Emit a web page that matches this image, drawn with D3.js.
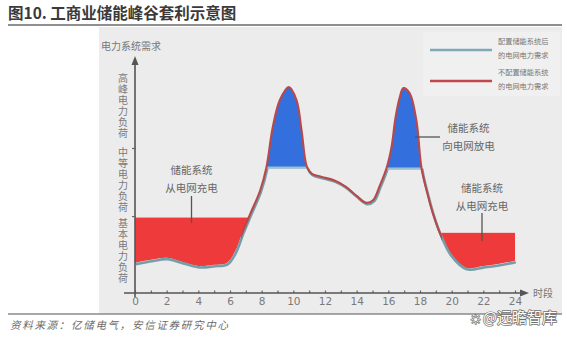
<!DOCTYPE html>
<html><head><meta charset="utf-8">
<script src="https://cdn.jsdelivr.net/npm/d3@7/dist/d3.min.js"></script>
<style>
html,body{margin:0;padding:0;background:#fff;}
svg{display:block;font-family:"Noto Sans CJK SC","Noto Sans",sans-serif;}
</style></head>
<body>
<svg id="chart" width="567" height="337"></svg>
<script>
// ---- data ----
const hours  = [0,1,2,3,4,5,5.8,6.3,6.8,7.3,7.9,8.3,8.7,9.15,9.72,10.2,10.52,10.85,11.15,11.8,12.6,13.3,14.0,14.6,15.05,15.45,15.9,16.2,16.45,16.72,16.95,17.35,17.77,18.1,18.5,18.8,19.25,19.9,20.9,22,23,24];
const demand = [12.8,14.1,15.0,13.2,11.5,12.0,12.8,17.4,26.0,34.0,43.5,53.4,70.5,82.1,87.6,82.1,69.2,53.8,50.8,49.4,47.9,45.3,41.3,38.4,39.6,45.5,53.4,62.0,74.5,83.3,87.2,85.0,73.5,53.0,41.5,34.2,25.6,16.7,10.7,11.5,12.4,13.7];
const chargeStart = [0, 19];
const chargeEnd   = [7.6, 24];
const chargeLevel = [32.1, 25.6];
const dischargeStart = [8.0, 15.6];
const dischargeEnd   = [11.3, 18.4];
const dischargeLevel = [53.4, 53.0];
const xTickValues = d3.range(0, 25);
const xTickLabels = [0,2,4,6,8,10,12,14,16,18,20,22,24];
const yBandLabels = ["高峰电力负荷","中等电力负荷","基本电力负荷"];
const yBandTicks = [61.5, 32.5];
const legendLabels = [["配置储能系统后","的电网电力需求"],["不配置储能系统","的电网电力需求"]];

const pts = hours.map((h,i)=>({h, v: demand[i]}));
const svg = d3.select("#chart");

const x = d3.scaleLinear().domain([0,24]).range([135,515]);
const y = d3.scaleLinear().domain([0,100]).range([293,58]);
const x0 = x(0), yb = y(0);

// title
svg.append("text").attr("x",8).attr("y",19).attr("font-size",15.5).attr("font-weight","bold")
  .attr("fill","#3a3a3a").text("图10. 工商业储能峰谷套利示意图");
svg.append("line").attr("x1",8).attr("x2",562).attr("y1",25).attr("y2",25)
  .attr("stroke","#6a6a6a").attr("stroke-width",1.6);

// panel
svg.append("rect").attr("x",99).attr("y",27).attr("width",463).attr("height",287).attr("fill","#ececec");
svg.append("rect").attr("x",423).attr("y",32).attr("width",137).attr("height",64).attr("fill","#f0f0f0");

svg.append("line").attr("x1",8).attr("x2",562).attr("y1",314).attr("y2",314)
  .attr("stroke","#8a8a8a").attr("stroke-width",1.4);

// clip paths
const defs = svg.append("defs");
const curve = d3.curveCatmullRom.alpha(0.5);
defs.append("clipPath").attr("id","aboveCurve").append("path")
  .attr("d", d3.area().curve(curve).x(d=>x(d.h)).y0(0).y1(d=>y(d.v))(pts));
defs.append("clipPath").attr("id","belowCurve").append("path")
  .attr("d", d3.area().curve(curve).x(d=>x(d.h)).y0(yb).y1(d=>y(d.v))(pts));
const cpBlue = defs.append("clipPath").attr("id","blueLineClip");
const cuts = [[0, dischargeStart[0]],[dischargeEnd[0], dischargeStart[1]],[dischargeEnd[1], 24.5]];
cuts.forEach(c=>cpBlue.append("rect").attr("x",x(c[0])-20*(c[0]===0)).attr("y",0)
  .attr("width",x(c[1])-x(c[0])+20*(c[0]===0)).attr("height",337));
dischargeStart.forEach((s,i)=>cpBlue.append("rect").attr("x",x(s)).attr("y",y(dischargeLevel[i]))
  .attr("width",x(dischargeEnd[i])-x(s)).attr("height",337));
defs.append("clipPath").attr("id","redLineClip").append("rect")
  .attr("x",x(6.7)).attr("y",0).attr("width",x(19.4)-x(6.7)).attr("height",337);

// red charge fills
chargeStart.forEach((s,i)=>{
  svg.append("rect").attr("clip-path","url(#aboveCurve)")
    .attr("x",x(s)).attr("y",y(chargeLevel[i]))
    .attr("width",x(chargeEnd[i])-x(s)).attr("height",yb-y(chargeLevel[i]))
    .attr("fill","#ee3a3b");
});
// blue discharge fills
dischargeStart.forEach((s,i)=>{
  svg.append("rect").attr("clip-path","url(#belowCurve)")
    .attr("x",x(s)).attr("y",0)
    .attr("width",x(dischargeEnd[i])-x(s)).attr("height",y(dischargeLevel[i]))
    .attr("fill","#3370dd");
});

const line = d3.line().curve(curve).x(d=>x(d.h)).y(d=>y(d.v));
// blue-grey line (with storage)
svg.append("g").attr("clip-path","url(#blueLineClip)")
  .append("path").attr("d",line(pts)).attr("transform","translate(0.8,1.4)")
  .attr("fill","none").attr("stroke","#769ea9").attr("stroke-width",2.6);
dischargeStart.forEach((s,i)=>{
  svg.append("rect").attr("clip-path","url(#belowCurve)")
    .attr("x",x(s)).attr("y",y(dischargeLevel[i])-1).attr("width",x(dischargeEnd[i])-x(s)).attr("height",2.4)
    .attr("fill","#9dc0cf");
});
// red line (without storage)
svg.append("g").attr("clip-path","url(#redLineClip)")
  .append("path").attr("d",line(pts))
  .attr("fill","none").attr("stroke","#b8494b").attr("stroke-width",2.1);

// axes
const axisColor = "#555";
const xAxis = d3.axisBottom(x).tickValues(xTickValues)
  .tickFormat(d=> xTickLabels.includes(d) ? d : "").tickSizeInner(-2.5).tickSizeOuter(0).tickPadding(5);
const gx = svg.append("g").attr("transform",`translate(0,${yb})`).call(xAxis);
gx.select(".domain").remove();
gx.selectAll(".tick line").attr("stroke","#666").attr("stroke-width",1.2);
gx.selectAll(".tick text").attr("fill","#7a7a7a").attr("font-size",10.5).attr("font-family","DejaVu Sans, sans-serif");
svg.append("line").attr("x1",124).attr("x2",522).attr("y1",yb).attr("y2",yb).attr("stroke",axisColor).attr("stroke-width",1.6);
svg.append("path").attr("d",`M${529},${yb} L${520},${yb-3.5} L${520},${yb+3.5} Z`).attr("fill",axisColor);
svg.append("text").attr("x",533).attr("y",yb+4).attr("font-size",10).attr("fill","#777").text("时段");

svg.append("line").attr("x1",x0).attr("x2",x0).attr("y1",yb+4).attr("y2",64).attr("stroke",axisColor).attr("stroke-width",1.6);
svg.append("path").attr("d",`M${x0},${56} L${x0-3.5},${65} L${x0+3.5},${65} Z`).attr("fill",axisColor);
yBandTicks.forEach(v=>svg.append("line").attr("x1",x0-3).attr("x2",x0+1).attr("y1",y(v)).attr("y2",y(v))
  .attr("stroke","#666").attr("stroke-width",1.2));
svg.append("text").attr("x",101).attr("y",50).attr("font-size",10).attr("fill","#777").text("电力系统需求");

// vertical band labels (one text each, vertical writing)
const bandStarts = [73, 147, 218];
yBandLabels.forEach((lab,i)=>{
  svg.append("text").attr("x",123).attr("y",bandStarts[i])
    .attr("writing-mode","vertical-rl").attr("style","writing-mode:vertical-rl;glyph-orientation-vertical:0")
    .attr("letter-spacing",1.1).attr("font-size",10).attr("fill","#7a7a7a").text(lab);
});

// legend
const legColors = ["#7fa8b8","#c0484c"];
const legY = [50, 81];
legColors.forEach((c,i)=>{
  svg.append("line").attr("x1",430).attr("x2",492).attr("y1",legY[i]).attr("y2",legY[i]).attr("stroke",c).attr("stroke-width",2.4);
  legendLabels[i].forEach((t,j)=>svg.append("text").attr("x",498).attr("y",legY[i]-6+j*14)
    .attr("font-size",7.2).attr("fill","#777").text(t));
});

// annotations
const annColor = "#666";
function ann(cx, y1, lines, fs){
  lines.forEach((t,j)=>svg.append("text").attr("x",cx).attr("y",y1+j*18).attr("text-anchor","middle")
    .attr("font-size",fs).attr("fill",annColor).text(t));
}
ann(191.5, 174, ["储能系统","从电网充电"], 10.5);
svg.append("line").attr("x1",191.5).attr("x2",191.5).attr("y1",196).attr("y2",223).attr("stroke","#555").attr("stroke-width",1.3);
ann(482, 192, ["储能系统","从电网充电"], 10.5);
svg.append("line").attr("x1",482).attr("x2",482).attr("y1",213).attr("y2",241).attr("stroke","#555").attr("stroke-width",1.3);
ann(468.5, 132, ["储能系统","向电网放电"], 10.5);
svg.append("line").attr("x1",415).attr("x2",440).attr("y1",137).attr("y2",137).attr("stroke","#555").attr("stroke-width",1.3);

// source + watermark
svg.append("text").attr("x",10).attr("y",329).attr("font-size",10.5).attr("font-style","italic")
  .attr("letter-spacing",1.7).attr("fill","#6a6a6a").text("资料来源：亿储电气，安信证券研究中心");
svg.append("text").attr("x",557).attr("y",323).attr("text-anchor","end").attr("font-size",15)
  .attr("fill","#fff").attr("stroke","#6f6f6f").attr("stroke-width",1.4).attr("paint-order","stroke")
  .text("☼@远瞻智库");
</script>
</body></html>
